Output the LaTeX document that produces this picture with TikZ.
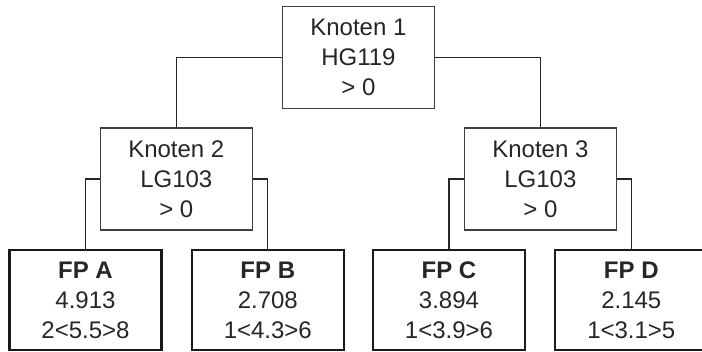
\documentclass[tikz,border=0pt]{standalone}
\usepackage{fontspec}
\setmainfont{Liberation Sans}
\usetikzlibrary{positioning}

\begin{document}
\begin{tikzpicture}[x=0.5pt,y=0.5pt,
    every node/.style={font=\fontsize{12}{15}\selectfont,align=center,
      text=black!85,inner sep=0pt},
    knoten/.style={draw=black!75,line width=0.6pt,minimum width=76pt,
      minimum height=51pt},
    blatt/.style={draw=black!90,line width=1.1pt,minimum width=76pt,
      minimum height=50pt},
    ast/.style={draw=black!85,line width=0.55pt}]
    \useasboundingbox (0,0) rectangle (702,352);
    % inner nodes
    \node[knoten] (k1) at (358.4,294.2) {Knoten 1\\HG119\\> 0};
    \node[knoten] (k2) at (176.3,173) {Knoten 2\\LG103\\> 0};
    \node[knoten] (k3) at (540.4,173) {Knoten 3\\LG103\\> 0};
    % leaves
    \node[blatt] (fpa) at (85.5,52) {\textbf{FP A}\\4.913\\2<5.5>8};
    \node[blatt] (fpb) at (267.8,52) {\textbf{FP B}\\2.708\\1<4.3>6};
    \node[blatt] (fpc) at (449,52) {\textbf{FP C}\\3.894\\1<3.9>6};
    \node[blatt] (fpd) at (631.3,52) {\textbf{FP D}\\2.145\\1<3.1>5};
    % branches
    \draw[ast] (k1.west) -| (k2.north);
    \draw[ast] (k1.east) -| (k3.north);
    \draw[ast] (k2.west) -| (fpa.north);
    \draw[ast] (k2.east) -| (fpb.north);
    \draw[ast] (k3.west) -| (fpc.north);
    \draw[ast] (k3.east) -| (fpd.north);
\end{tikzpicture}
\end{document}
